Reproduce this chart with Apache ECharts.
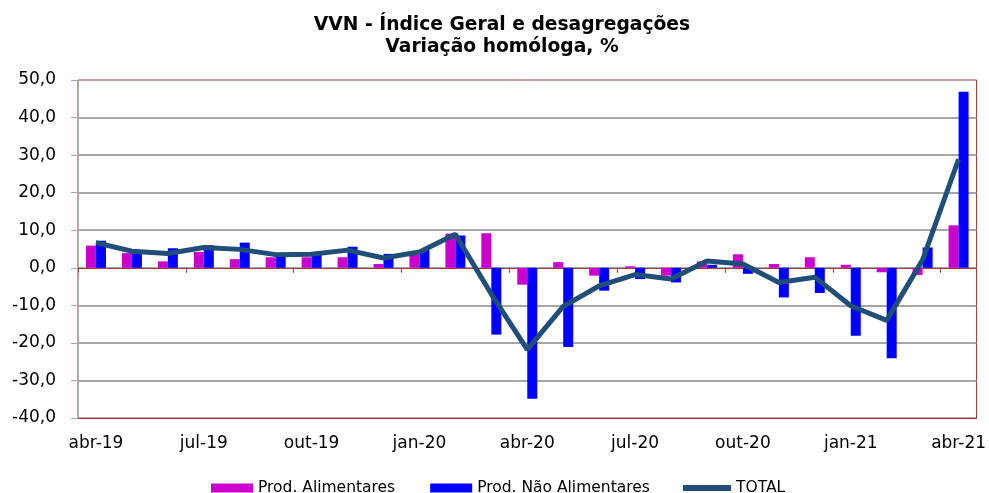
<!DOCTYPE html>
<html>
<head>
<meta charset="utf-8">
<script src="https://cdn.jsdelivr.net/npm/echarts@6/dist/echarts.min.js"></script>
<style>
  html, body { margin: 0; padding: 0; background: #fff; }
  #main { width: 989px; height: 493px; }
</style>
</head>
<body>
<div id="main"></div>
<script>
var months = ['abr-19', 'mai-19', 'jun-19', 'jul-19', 'ago-19', 'set-19', 'out-19', 'nov-19', 'dez-19',
  'jan-20', 'fev-20', 'mar-20', 'abr-20', 'mai-20', 'jun-20', 'jul-20', 'ago-20', 'set-20', 'out-20',
  'nov-20', 'dez-20', 'jan-21', 'fev-21', 'mar-21', 'abr-21'];

var alimentares = [5.9, 3.9, 1.7, 4.2, 2.3, 2.8, 2.8, 2.8, 1.0, 3.5, 9.1, 9.2, -4.5, 1.5, -2.1, 0.4,
  -2.1, 1.7, 3.6, 1.0, 2.8, 0.8, -1.2, -1.9, 11.3];
var naoAlimentares = [7.2, 4.1, 5.2, 6.0, 6.7, 2.9, 3.5, 5.6, 3.7, 4.8, 8.6, -17.8, -34.9, -21.1, -6.1, -3.0,
  -3.9, 0.8, -1.6, -7.9, -6.7, -18.1, -24.1, 5.4, 46.9];
var total = [6.7, 4.4, 3.8, 5.4, 4.9, 3.5, 3.6, 4.7, 2.6, 4.2, 8.9, -7.0, -21.8, -10.3, -4.8, -1.8,
  -3.0, 1.8, 1.0, -3.9, -2.5, -10.1, -14.0, 2.1, 28.9];

var titleLines = ['VVN - Índice Geral e desagregações', 'Variação homóloga, %'];

var font = 'DejaVu Sans';
var red = '#A33A3A';
var gray = '#A6A6A6';

var chartDom = document.getElementById('main');
var myChart = echarts.init(chartDom);
var option;

option = {
  animation: false,
  graphic: [
    {
      type: 'text', x: 502, y: 25,
      style: { text: titleLines[0], font: 'bold 18.7px "DejaVu Sans"', fill: '#000', textAlign: 'center', textVerticalAlign: 'middle' }
    },
    {
      type: 'text', x: 502, y: 47,
      style: { text: titleLines[1], font: 'bold 18.7px "DejaVu Sans"', fill: '#000', textAlign: 'center', textVerticalAlign: 'middle' }
    }
  ],
  legend: [
    {
      data: ['Prod. Alimentares', 'Prod. Não Alimentares'],
      left: 211, top: 480, padding: 0,
      icon: 'rect', itemWidth: 42, itemHeight: 9, itemGap: 35,
      textStyle: { fontFamily: font, fontSize: 15.5, color: '#000' }
    },
    {
      data: ['TOTAL'],
      left: 683, top: 480, padding: 0,
      icon: 'rect', itemWidth: 48, itemHeight: 6,
      textStyle: { fontFamily: font, fontSize: 15.5, color: '#000' }
    }
  ],
  grid: {
    left: 78, right: 12, top: 80, bottom: 75,
    show: true, borderColor: red, borderWidth: 1
  },
  xAxis: [
    {
      type: 'category',
      data: months,
      axisLine: { onZero: true, lineStyle: { color: red, width: 1 } },
      axisTick: { show: true, interval: 2, length: 5, lineStyle: { color: red } },
      axisLabel: { show: false },
      splitLine: { show: false }
    },
    {
      type: 'category',
      data: months,
      position: 'bottom',
      axisLine: { onZero: false, lineStyle: { color: red, width: 1 } },
      axisTick: { show: false },
      axisLabel: { interval: 2, margin: 17, fontFamily: font, fontSize: 17, color: '#000' },
      splitLine: { show: false }
    }
  ],
  yAxis: {
    type: 'value',
    min: -40, max: 50, interval: 10,
    axisLine: { show: true, lineStyle: { color: gray, width: 1 } },
    axisTick: { show: true, length: 7, lineStyle: { color: gray } },
    axisLabel: {
      margin: 22, fontFamily: font, fontSize: 17, color: '#000',
      formatter: function (v) { return v.toFixed(1).replace('.', ','); }
    },
    splitLine: { show: true, showMinLine: false, showMaxLine: false, lineStyle: { color: gray, width: 2 } }
  },
  series: [
    {
      name: 'Prod. Alimentares',
      type: 'bar',
      data: alimentares,
      barWidth: 10,
      barGap: '0%',
      itemStyle: { color: '#CC00CC' }
    },
    {
      name: 'Prod. Não Alimentares',
      type: 'bar',
      data: naoAlimentares,
      barWidth: 10,
      barGap: '0%',
      itemStyle: { color: '#0000FF' }
    },
    {
      name: 'TOTAL',
      type: 'line',
      data: total,
      symbol: 'none',
      z: 5,
      lineStyle: { color: '#1F4E79', width: 5 },
      itemStyle: { color: '#1F4E79' }
    }
  ]
};

option && myChart.setOption(option);
</script>
</body>
</html>
